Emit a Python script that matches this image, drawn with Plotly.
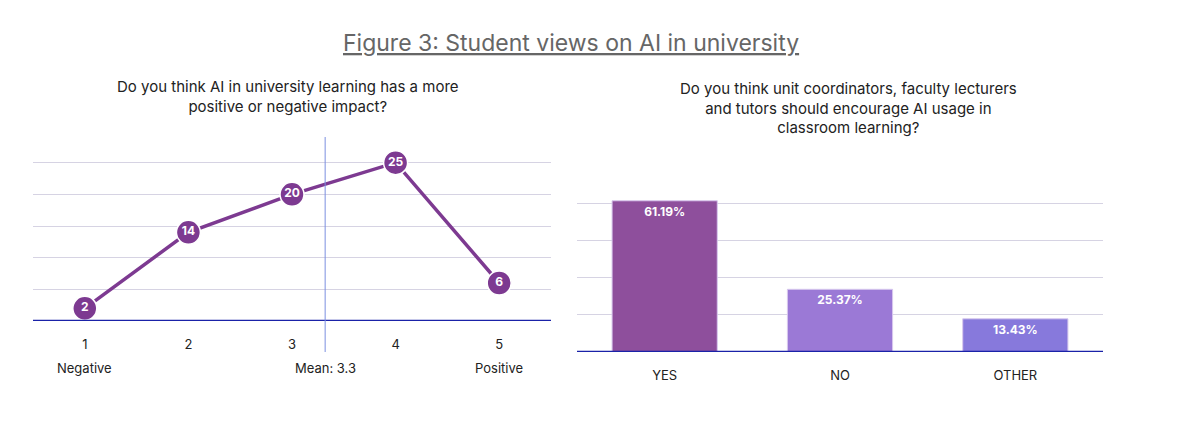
import plotly.graph_objects as go

scale_x = [1, 2, 3, 4, 5]
scale_counts = [2, 14, 20, 25, 6]
scale_ends = ["Negative", "", "", "", "Positive"]
mean_value = 3.32
mean_label = "Mean: 3.3"

answers = ["YES", "NO", "OTHER"]
shares = [61.19, 25.37, 13.43]
bar_colors = ["#8e4f9c", "#9b79d6", "#8779dc"]

F = "Inter, Noto Sans, sans-serif"
OFF = 8
H, W = 448 - 2 * OFF, 1188 - 2 * OFF
def py(p): return 1 - (p - OFF) / H
def px(p): return (p - OFF) / W

fig = go.Figure()
fig.add_trace(go.Scatter(
    x=scale_x, y=scale_counts, mode="lines+markers+text",
    text=[str(v) for v in scale_counts], textposition="middle center",
    textfont=dict(color="white", size=12, family=F, weight="bold"),
    line=dict(color="#7d3a91", width=3.5),
    marker=dict(size=24, color="#7d3a91", line=dict(color="white", width=1.5)),
    xaxis="x", yaxis="y", cliponaxis=False, hoverinfo="skip"))
fig.add_trace(go.Bar(
    x=answers, y=shares, marker=dict(color=bar_colors, line=dict(color="#d8c8ee", width=1)),
    text=[f"{v:.2f}%" for v in shares], textposition="inside", insidetextanchor="end",
    textfont=dict(color="white", size=12, family=F, weight="bold"),
    xaxis="x2", yaxis="y2", hoverinfo="skip"))

grid = "#d6d3e3"
fig.update_layout(
    width=W, height=H, margin=dict(l=0, r=0, t=0, b=0),
    paper_bgcolor="white", plot_bgcolor="white", showlegend=False,
    bargap=0.4, font=dict(family=F, color="#222"),
    xaxis=dict(domain=[px(33), px(551)], range=[0.5, 5.5], tickvals=scale_x,
               ticktext=[str(v) for v in scale_x], showgrid=False, zeroline=False,
               tickfont=dict(size=13, color="#222"), ticks="", anchor="y"),
    yaxis=dict(domain=[py(321), py(131)], range=[0, 30], dtick=5, showticklabels=False,
               gridcolor=grid, zeroline=False, anchor="x"),
    xaxis2=dict(domain=[px(577), px(1103)], showgrid=False, zeroline=False,
                tickfont=dict(size=13, color="#222"), anchor="y2"),
    yaxis2=dict(domain=[py(352), py(200)], range=[0, 61.5], dtick=15, showticklabels=False,
                gridcolor=grid, zeroline=False, anchor="x2"),
)
fig.update_xaxes(ticklabelstandoff=14)
fig.add_shape(type="line", xref="x domain", yref="y", x0=0, x1=1, y0=0, y1=0,
              line=dict(color="#1a22a8", width=2.5))
fig.add_shape(type="line", xref="x2 domain", yref="y2", x0=0, x1=1, y0=0, y1=0,
              line=dict(color="#1a22a8", width=2.5))
fig.add_shape(type="line", xref="x", yref="paper", x0=mean_value, x1=mean_value,
              y0=py(352), y1=py(137), line=dict(color="#7b8fe0", width=1))

def ann(x, xref, y, text, size, color="#222"):
    fig.add_annotation(x=x, xref=xref, y=y, yref="paper", text=text, showarrow=False,
                       xanchor="center", yanchor="middle", align="center",
                       font=dict(size=size, color=color))

for xv, lab in zip(scale_x, scale_ends):
    if lab:
        ann(xv, "x", py(368), lab, 13)
ann(mean_value, "x", py(368), mean_label, 13)
ann(px(571), "paper", py(43), "<u>Figure 3: Student views on AI in university</u>", 23, "#666")
ann(px(288), "paper", py(96),
    "Do you think AI in university learning has a more<br>positive or negative impact?", 15)
ann(px(848), "paper", py(108),
    "Do you think unit coordinators, faculty lecturers<br>and tutors should encourage AI usage in<br>classroom learning?", 15)

fig.write_html("out.html")
